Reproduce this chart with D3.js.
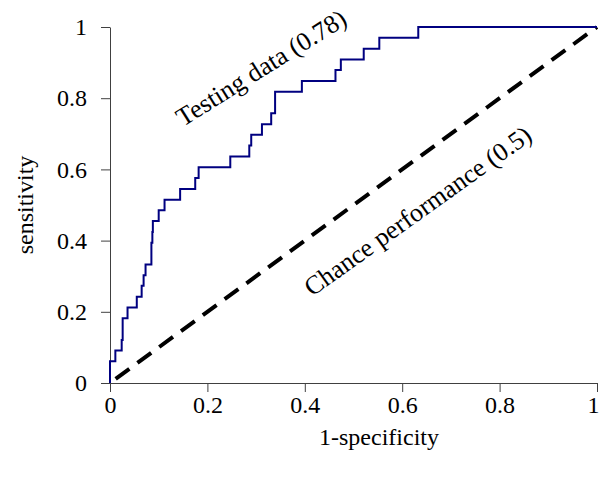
<!DOCTYPE html>
<html><head><meta charset="utf-8">
<script src="https://cdn.jsdelivr.net/npm/d3@7/dist/d3.min.js"></script>
<style>body{margin:0;background:#fff}svg{display:block}text{font-family:"Liberation Serif","Times New Roman",serif;fill:#000}</style>
</head><body>
<script>
// ROC curve (testing data) — step points: false positive rate, sensitivity
const fpr = [0, 0, 0.011, 0.024, 0.026, 0.036, 0.055, 0.065, 0.069, 0.073, 0.085, 0.087, 0.088, 0.100, 0.112, 0.144, 0.175, 0.182, 0.247, 0.286, 0.290, 0.312, 0.331, 0.339, 0.394, 0.463, 0.474, 0.521, 0.553, 0.633, 1.0];
const tpr = [0, 0.061, 0.091, 0.121, 0.182, 0.212, 0.242, 0.273, 0.303, 0.333, 0.394, 0.424, 0.455, 0.485, 0.515, 0.545, 0.576, 0.606, 0.636, 0.667, 0.697, 0.727, 0.758, 0.818, 0.848, 0.879, 0.909, 0.939, 0.970, 1.0, 1.0];
const chanceX = [0, 1];
const chanceY = [0, 1];
const tickValues = [0, 0.2, 0.4, 0.6, 0.8, 1];
const tickLabels = ["0", "0.2", "0.4", "0.6", "0.8", "1"];
const xTitle = "1-specificity";
const yTitle = "sensitivity";
const curveLabel = "Testing data (0.78)";
const chanceLabel = "Chance performance (0.5)";

const W = 599, H = 481;
const svg = d3.select("body").append("svg").attr("width", W).attr("height", H);
const x = d3.scaleLinear().domain([0, 1]).range([110, 597]);
const y = d3.scaleLinear().domain([0, 1]).range([383, 27]);

// axes
const xAxis = svg.append("g").attr("transform", `translate(0,${y(0)})`)
  .call(d3.axisBottom(x).tickValues(tickValues).tickFormat((d, i) => tickLabels[i]).tickSizeInner(9).tickSizeOuter(0).tickPadding(4));
const yAxis = svg.append("g").attr("transform", `translate(${x(0)},0)`)
  .call(d3.axisLeft(y).tickValues(tickValues).tickFormat((d, i) => tickLabels[i]).tickSizeInner(9).tickSizeOuter(0).tickPadding(14));
[xAxis, yAxis].forEach(g => {
  g.selectAll("path.domain").attr("stroke", "#404040").attr("stroke-width", 1);
  g.selectAll(".tick line").attr("stroke", "#404040").attr("stroke-width", 1);
  g.selectAll(".tick text").style("font-family", '"Liberation Serif","Times New Roman",serif').style("font-size", "24px").attr("fill", "#000");
});
// keep the last x tick label inside the picture
xAxis.selectAll(".tick text").filter(d => d === 1).attr("text-anchor", "end").attr("x", 2);

// chance line
const chanceData = chanceX.map((v, i) => [v, chanceY[i]]);
svg.append("path").datum(chanceData)
  .attr("d", d3.line().x(d => x(d[0])).y(d => y(d[1])))
  .attr("fill", "none").attr("stroke", "#000").attr("stroke-width", 4)
  .attr("stroke-dasharray", "17,10").attr("stroke-dashoffset", 20);

// ROC step curve
const rocData = fpr.map((v, i) => [v, tpr[i]]);
svg.append("path").datum(rocData)
  .attr("d", d3.line().x(d => x(d[0])).y(d => y(d[1])).curve(d3.curveStepAfter))
  .attr("fill", "none").attr("stroke", "#000080").attr("stroke-width", 2);

// titles
svg.append("text").attr("x", 379).attr("y", 445).attr("text-anchor", "middle").style("font-size", "24px").text(xTitle);
svg.append("text").attr("transform", "translate(33,205) rotate(-90)").attr("text-anchor", "middle").style("font-size", "24px").text(yTitle);

// annotations
svg.append("text").attr("transform", "translate(183,127) rotate(-32)").style("font-size", "26px").text(curveLabel);
svg.append("text").attr("transform", "translate(312,297) rotate(-35.5)").style("font-size", "26px").text(chanceLabel);
</script>
</body></html>
